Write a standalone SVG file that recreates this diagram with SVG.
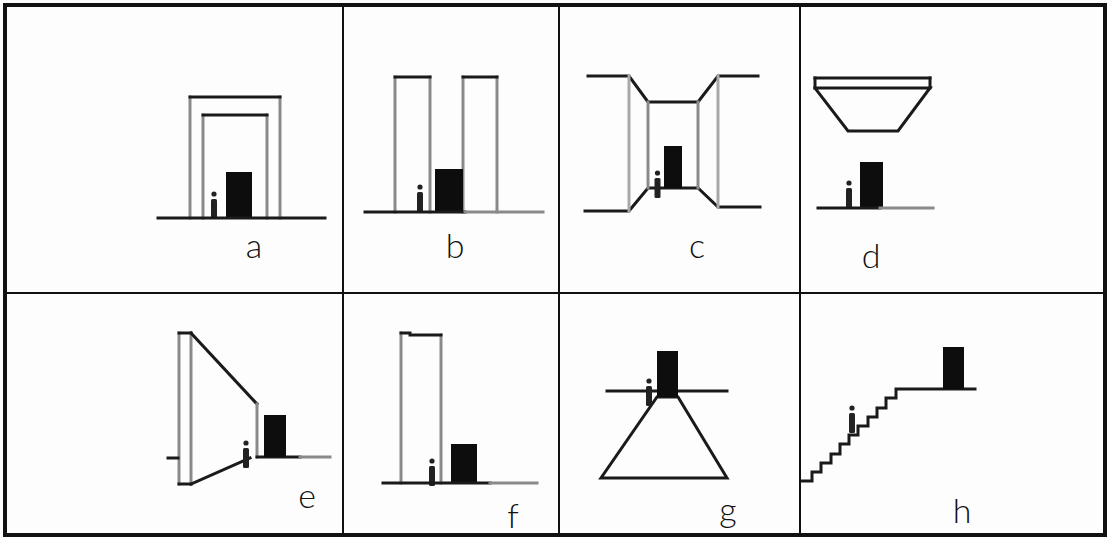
<svg xmlns="http://www.w3.org/2000/svg" width="1110" height="540" viewBox="0 0 1110 540">
  <style>
    .frame { fill: none; stroke: #111; }
    .k { fill: none; stroke: #1a1a1a; stroke-width: 3; stroke-linecap: square; stroke-linejoin: miter; }
    .g { fill: none; stroke: #8a8a8a; stroke-width: 3; stroke-linecap: square; }
    .gl { fill: none; stroke: #a8a8a8; stroke-width: 3; stroke-linecap: square; }
    .mass { fill: #0d0d0d; }
    .fig { fill: #222; }
    .lbl { font-family: "Lato", "Open Sans", "DejaVu Sans", sans-serif; font-weight: 300; font-size: 34px; fill: #111; text-anchor: middle; }
  </style>
  <defs>
    <!-- a tiny standing person: head and body -->
    <g id="person">
      <circle cx="0" cy="-25" r="2.6" class="fig"/>
      <rect x="-3" y="-20" width="6" height="20" rx="1.5" class="fig"/>
    </g>
  </defs>

  <rect width="1110" height="540" fill="#fdfdfd"/>

  <!-- panel grid -->
  <g id="grid">
    <rect x="5" y="5" width="1100" height="530" class="frame" stroke-width="4"/>
    <line x1="343" y1="5" x2="343" y2="535" class="frame" stroke-width="2"/>
    <line x1="559" y1="5" x2="559" y2="535" class="frame" stroke-width="2"/>
    <line x1="800" y1="5" x2="800" y2="535" class="frame" stroke-width="2"/>
    <line x1="5" y1="293" x2="1105" y2="293" class="frame" stroke-width="2"/>
  </g>

  <!-- a: double gateway -->
  <g id="panel-a">
    <line x1="190" y1="97" x2="190" y2="218" class="g"/>
    <line x1="280" y1="97" x2="280" y2="218" class="g"/>
    <line x1="190" y1="97" x2="280" y2="97" class="k"/>
    <line x1="203" y1="115" x2="203" y2="218" class="g"/>
    <line x1="267" y1="115" x2="267" y2="218" class="g"/>
    <line x1="203" y1="115" x2="267" y2="115" class="k"/>
    <rect x="226" y="172" width="26" height="46" class="mass"/>
    <use href="#person" x="214" y="219"/>
    <line x1="158" y1="218" x2="325" y2="218" class="k"/>
    <text x="254" y="258" class="lbl">a</text>
  </g>

  <!-- b: twin towers -->
  <g id="panel-b">
    <line x1="395" y1="77" x2="395" y2="212" class="g"/>
    <line x1="430" y1="77" x2="430" y2="212" class="g"/>
    <line x1="395" y1="77" x2="430" y2="77" class="k"/>
    <line x1="463" y1="77" x2="463" y2="212" class="g"/>
    <line x1="497" y1="77" x2="497" y2="212" class="g"/>
    <line x1="463" y1="77" x2="497" y2="77" class="k"/>
    <rect x="435" y="169" width="28" height="43" class="mass"/>
    <use href="#person" x="420" y="212"/>
    <line x1="365" y1="212" x2="465" y2="212" class="k"/>
    <line x1="465" y1="212" x2="543" y2="212" class="g"/>
    <text x="455" y="258" class="lbl">b</text>
  </g>

  <!-- c: funnelled passage -->
  <g id="panel-c">
    <polyline points="588,76 629,76 648,102 698,102 718,76 758,76" class="k"/>
    <polyline points="585,211 629,211 648,188 698,188 718,207 760,207" class="k"/>
    <line x1="629" y1="76" x2="629" y2="211" class="gl"/>
    <line x1="648" y1="102" x2="648" y2="188" class="g"/>
    <line x1="698" y1="102" x2="698" y2="188" class="g"/>
    <line x1="718" y1="76" x2="718" y2="207" class="gl"/>
    <rect x="664" y="146" width="18" height="42" class="mass"/>
    <use href="#person" x="657.5" y="198"/>
    <text x="697" y="258" class="lbl">c</text>
  </g>

  <!-- d: overhead canopy -->
  <g id="panel-d">
    <line x1="815" y1="78" x2="930" y2="78" class="k"/>
    <line x1="815" y1="78" x2="815" y2="88" class="k"/>
    <line x1="930" y1="78" x2="930" y2="88" class="k"/>
    <polyline points="815,88 930,88 898,131 848,131 815,88" class="k"/>
    <rect x="860" y="162" width="23" height="46" class="mass"/>
    <use href="#person" x="849" y="208"/>
    <line x1="818" y1="208" x2="880" y2="208" class="k"/>
    <line x1="880" y1="208" x2="933" y2="208" class="g"/>
    <text x="871" y="268" class="lbl">d</text>
  </g>

  <!-- e: tapering wall -->
  <g id="panel-e">
    <line x1="179" y1="333" x2="179" y2="484" class="g"/>
    <line x1="191" y1="333" x2="191" y2="484" class="g"/>
    <line x1="179" y1="333" x2="191" y2="333" class="k"/>
    <line x1="179" y1="484" x2="191" y2="484" class="k"/>
    <line x1="191" y1="333" x2="257" y2="404" class="k"/>
    <line x1="257" y1="404" x2="257" y2="457" class="g"/>
    <line x1="191" y1="484" x2="250" y2="458" class="k"/>
    <line x1="168" y1="458" x2="178" y2="458" class="k"/>
    <line x1="257" y1="457" x2="300" y2="457" class="k"/>
    <line x1="300" y1="457" x2="330" y2="457" class="g"/>
    <rect x="264" y="415" width="22" height="42" class="mass"/>
    <use href="#person" x="246" y="468"/>
    <text x="307" y="508" class="lbl">e</text>
  </g>

  <!-- f: single tower -->
  <g id="panel-f">
    <line x1="401" y1="333" x2="401" y2="483" class="g"/>
    <line x1="441" y1="335" x2="441" y2="483" class="g"/>
    <polyline points="401,333 410,333 410,335 441,335" class="k"/>
    <rect x="451" y="444" width="26" height="39" class="mass"/>
    <use href="#person" x="432" y="486"/>
    <line x1="383" y1="483" x2="490" y2="483" class="k"/>
    <line x1="490" y1="483" x2="537" y2="483" class="g"/>
    <text x="513" y="528" class="lbl">f</text>
  </g>

  <!-- g: raised platform -->
  <g id="panel-g">
    <line x1="607" y1="391" x2="727" y2="391" class="k"/>
    <polygon points="657,397 678,397 727,478 601,478" class="k"/>
    <rect x="657" y="351" width="21" height="46" class="mass"/>
    <use href="#person" x="649" y="406"/>
    <text x="728" y="522" class="lbl">g</text>
  </g>

  <!-- h: stair ascent -->
  <g id="panel-h">
    <polyline points="802,481 812,481 812,472 821,472 821,463 831,463 831,454 840,454 840,444 849,444 849,435 858,435 858,426 868,426 868,417 877,417 877,408 886,408 886,398 896,398 896,389 975,389" class="k"/>
    <rect x="943" y="347" width="21" height="42" class="mass"/>
    <use href="#person" x="852" y="433"/>
    <text x="962" y="523" class="lbl">h</text>
  </g>
</svg>
